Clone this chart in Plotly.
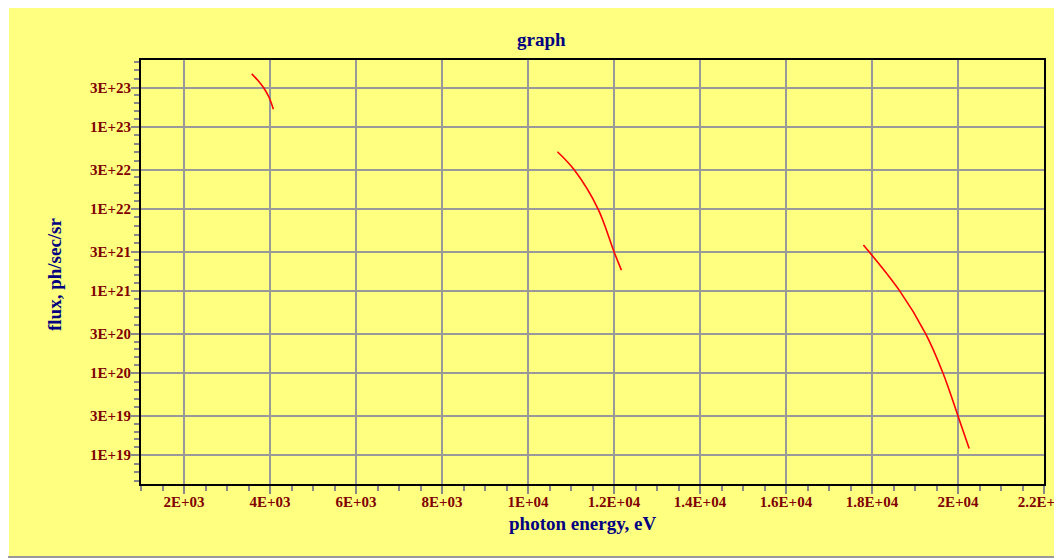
import math
import plotly.graph_objects as go

# ---- data ----
curve1_x = [3574, 3721, 3860, 3977, 4079]
curve1_y = [4.39e23, 3.65e23, 2.94e23, 2.28e23, 1.63e23]

curve2_x = [10684, 11070, 11628, 12000, 12172]
curve2_y = [4.95e22, 3.0e22, 1.0e22, 3.0e21, 1.79e21]

curve3_x = [17801, 18644, 19249, 19650, 20000, 20260]
curve3_y = [3.62e21, 1.0e21, 3.0e20, 1.0e20, 3.0e19, 1.2e19]

x_tickvals = [2000, 4000, 6000, 8000, 10000, 12000, 14000, 16000, 18000, 20000, 22000]
x_ticktext = ["2E+03", "4E+03", "6E+03", "8E+03", "1E+04", "1.2E+04", "1.4E+04",
              "1.6E+04", "1.8E+04", "2E+04", "2.2E+04"]
y_tickvals = [1e19, 3e19, 1e20, 3e20, 1e21, 3e21, 1e22, 3e22, 1e23, 3e23]
y_ticktext = ["1E+19", "3E+19", "1E+20", "3E+20", "1E+21", "3E+21", "1E+22", "3E+22", "1E+23", "3E+23"]

# minor ticks: each 1->3 and 3->10 step split into 5 equal log parts
_l3 = math.log10(3.0)
y_minorvals = []
for e in range(18, 24):
    for k in range(1, 5):
        y_minorvals.append(10.0 ** (e + k * _l3 / 5))
        y_minorvals.append(10.0 ** (e + _l3 + k * (1 - _l3) / 5))

title_text = "graph"
x_title = "photon energy, eV"
y_title = "flux, ph/sec/sr"

# ---- layout constants (figure pixels; page is offset by the 8px body margin) ----
OFF = 8
W, H = 1062 - OFF, 558 - OFF
L, R, T, B = 141 - OFF, 1044 - OFF, 60 - OFF, 484 - OFF
pw, ph = R - L, B - T


def px(x):
    return (x - OFF - L) / pw


def py(y):
    return (B - (y - OFF)) / ph


YELLOW = "#ffff80"
RED = "#ff0000"
TICKFONT = dict(family="Liberation Serif", size=15, color="#800000", weight="bold")
TITLEFONT = dict(family="Liberation Serif", size=19, color="#000080", weight="bold")

fig = go.Figure()
for xs, ys in [(curve1_x, curve1_y), (curve2_x, curve2_y), (curve3_x, curve3_y)]:
    fig.add_trace(go.Scatter(x=xs, y=ys, mode="lines",
                             line=dict(color=RED, width=1.6, shape="spline", smoothing=1.0),
                             showlegend=False, hoverinfo="skip"))

fig.update_layout(
    width=W, height=H,
    margin=dict(l=L, r=W - R, t=T, b=H - B, pad=0, autoexpand=False),
    paper_bgcolor="white",
    plot_bgcolor=YELLOW,
    showlegend=False,
)

fig.update_xaxes(
    range=[1000, 22000],
    automargin=False,
    tickmode="array", tickvals=x_tickvals, ticktext=x_ticktext,
    tickfont=TICKFONT,
    ticks="outside", ticklen=8, tickwidth=1.5, tickcolor="#888888",
    showgrid=True, gridcolor="#999999", gridwidth=2,
    showline=True, linecolor="black", linewidth=2, mirror=True,
    zeroline=False,
    ticklabelstandoff=-5,
    ticklabeloverflow="allow",
    minor=dict(dtick=500, tick0=0, ticks="outside", ticklen=5, tickwidth=1.5,
               tickcolor="#888888", showgrid=False),
)
fig.update_yaxes(
    type="log",
    range=[18.648, 23.812],
    automargin=False,
    tickmode="array", tickvals=y_tickvals, ticktext=y_ticktext,
    tickfont=TICKFONT,
    ticks="outside", ticklen=8, tickwidth=1.5, tickcolor="#888888",
    showgrid=True, gridcolor="#999999", gridwidth=2,
    showline=True, linecolor="black", linewidth=2, mirror=True,
    zeroline=False,
    ticklabelstandoff=-3,
    minor=dict(tickmode="array", tickvals=y_minorvals, ticks="outside", ticklen=5, tickwidth=1.5,
               tickcolor="#888888", showgrid=False),
)

# background panel
fig.add_shape(type="rect", xref="paper", yref="paper", layer="below",
              x0=px(9), x1=px(1070), y0=py(556), y1=py(0),
              fillcolor=YELLOW, line=dict(width=0))
fig.add_shape(type="line", xref="paper", yref="paper", layer="below",
              x0=px(8), x1=px(1070), y0=py(557), y1=py(557),
              line=dict(color="#999999", width=2))

fig.add_annotation(text=title_text, xref="paper", yref="paper", x=px(541), y=py(40),
                   xanchor="center", yanchor="middle", showarrow=False, font=TITLEFONT)
fig.add_annotation(text=x_title, xref="paper", yref="paper", x=px(583), y=py(523),
                   xanchor="center", yanchor="middle", showarrow=False, font=TITLEFONT)
fig.add_annotation(text=y_title, xref="paper", yref="paper", x=px(54), y=py(274),
                   xanchor="center", yanchor="middle", showarrow=False, font=TITLEFONT,
                   textangle=-90)

fig.write_html("out.html")
